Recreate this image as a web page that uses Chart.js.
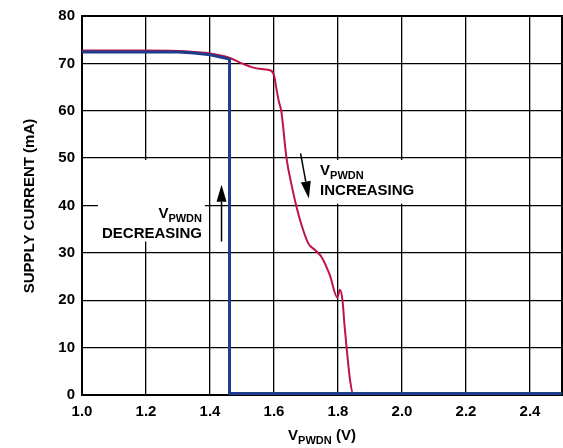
<!DOCTYPE html>
<html>
<head>
<meta charset="utf-8">
<script src="https://cdn.jsdelivr.net/npm/chart.js@4/dist/chart.umd.min.js"></script>
<style>
  html, body { margin: 0; padding: 0; background: #fff; }
  #wrap { width: 563px; height: 448px; }
</style>
</head>
<body>
<div id="wrap"><canvas id="myChart" width="563" height="448"></canvas></div>
<script>
const xTicks = [1.0, 1.2, 1.4, 1.6, 1.8, 2.0, 2.2, 2.4];
const yTicks = [0, 10, 20, 30, 40, 50, 60, 70, 80];

// V_PWDN increasing (red)
const incX = [1.0, 1.1, 1.2, 1.3, 1.35, 1.4, 1.46, 1.5, 1.53, 1.56, 1.59, 1.6, 1.608, 1.615, 1.623, 1.639, 1.655, 1.67, 1.686, 1.707, 1.728, 1.748, 1.774, 1.798, 1.806, 1.814, 1.82, 1.827, 1.838, 1.847, 1.9, 2.0, 2.5];
const incY = [72.7, 72.7, 72.7, 72.6, 72.4, 72.1, 71.2, 70.0, 69.2, 68.8, 68.5, 67.5, 64.5, 62.0, 59.8, 50.0, 44.3, 39.8, 35.9, 32.0, 30.6, 29.2, 25.4, 20.6, 22.2, 20.0, 15.0, 9.9, 3.0, 0.3, 0.2, 0.2, 0.2];

// V_PWDN decreasing (blue)
const decX = [1.0, 1.2, 1.3, 1.35, 1.4, 1.461, 1.461, 2.5];
const decY = [72.4, 72.4, 72.4, 72.2, 71.8, 70.9, 0.3, 0.3];

const red = "#be1446";
const blue = "#1e3c8c";
const font = "'Liberation Sans', Arial, sans-serif";

function toPoints(xs, ys) {
  return xs.map((x, i) => ({ x: x, y: ys[i] }));
}

// text with a subscript, e.g. V + PWDN
function drawSub(ctx, x, y, main, sub, rest, align) {
  ctx.font = "bold 15px " + font;
  const w1 = ctx.measureText(main).width;
  const w3 = rest ? ctx.measureText(rest).width : 0;
  ctx.font = "bold 11px " + font;
  const w2 = ctx.measureText(sub).width;
  const total = w1 + w2 + w3;
  let left = x;
  if (align === "right") left = x - total;
  if (align === "center") left = x - total / 2;
  ctx.textAlign = "left";
  ctx.textBaseline = "alphabetic";
  ctx.font = "bold 15px " + font;
  ctx.fillText(main, left, y);
  ctx.font = "bold 11px " + font;
  ctx.fillText(sub, left + w1, y + 4);
  if (rest) {
    ctx.font = "bold 15px " + font;
    ctx.fillText(rest, left + w1 + w2, y);
  }
}

function arrow(ctx, x1, y1, x2, y2) {
  const ang = Math.atan2(y2 - y1, x2 - x1);
  const len = 17, half = 5;
  ctx.beginPath();
  ctx.moveTo(x1, y1);
  ctx.lineTo(x2 - Math.cos(ang) * len, y2 - Math.sin(ang) * len);
  ctx.lineWidth = 1.5;
  ctx.stroke();
  ctx.beginPath();
  ctx.moveTo(x2, y2);
  ctx.lineTo(x2 - Math.cos(ang) * len - Math.sin(ang) * half, y2 - Math.sin(ang) * len + Math.cos(ang) * half);
  ctx.lineTo(x2 - Math.cos(ang) * len + Math.sin(ang) * half, y2 - Math.sin(ang) * len - Math.cos(ang) * half);
  ctx.closePath();
  ctx.fill();
}

const boxes = [
  { x1: 1.05, x2: 1.384, y1: 32.4, y2: 49.6 },
  { x1: 1.731, x2: 2.065, y1: 40.4, y2: 49.6 },
];

const labelBoxes = {
  id: "labelBoxes",
  beforeDatasetsDraw(chart) {
    const { ctx, scales: { x, y } } = chart;
    ctx.save();
    ctx.fillStyle = "#fff";
    boxes.forEach((b) => {
      const l = x.getPixelForValue(b.x1), r = x.getPixelForValue(b.x2);
      const t = y.getPixelForValue(b.y2), btm = y.getPixelForValue(b.y1);
      ctx.fillRect(l, t, r - l, btm - t);
    });
    // frame
    const a = chart.chartArea;
    ctx.strokeStyle = "#000";
    ctx.lineWidth = 2;
    ctx.strokeRect(a.left, a.top, a.right - a.left, a.bottom - a.top);
    ctx.restore();
  },
  afterDraw(chart) {
    const { ctx, scales: { x, y } } = chart;
    ctx.save();
    ctx.fillStyle = "#000";
    ctx.strokeStyle = "#000";

    drawSub(ctx, x.getPixelForValue(1.744), y.getPixelForValue(46.5), "V", "PWDN");
    ctx.font = "bold 15px " + font;
    ctx.textAlign = "left";
    ctx.fillText("INCREASING", x.getPixelForValue(1.744), y.getPixelForValue(42.3));

    drawSub(ctx, x.getPixelForValue(1.375), y.getPixelForValue(37.4), "V", "PWDN", "", "right");
    ctx.font = "bold 15px " + font;
    ctx.textAlign = "right";
    ctx.fillText("DECREASING", x.getPixelForValue(1.375), y.getPixelForValue(33.2));

    arrow(ctx, x.getPixelForValue(1.436), y.getPixelForValue(32.4), x.getPixelForValue(1.436), y.getPixelForValue(44.4));
    arrow(ctx, x.getPixelForValue(1.683), y.getPixelForValue(51.0), x.getPixelForValue(1.709), y.getPixelForValue(41.5));

    // axis titles
    drawSub(ctx, (chart.chartArea.left + chart.chartArea.right) / 2, 440, "V", "PWDN", " (V)", "center");
    ctx.save();
    ctx.translate(30, 206);
    ctx.rotate(-Math.PI / 2);
    ctx.font = "bold 15px " + font;
    ctx.textAlign = "center";
    ctx.textBaseline = "middle";
    ctx.fillText("SUPPLY CURRENT (mA)", 0, 0);
    ctx.restore();
    ctx.restore();
  },
};

const ctx = document.getElementById("myChart").getContext("2d");
new Chart(ctx, {
  type: "line",
  data: {
    datasets: [
      {
        label: "Decreasing",
        data: toPoints(decX, decY),
        borderColor: blue,
        borderWidth: 3,
        pointRadius: 0,
        tension: 0,
      },
      {
        label: "Increasing",
        data: toPoints(incX, incY),
        borderColor: red,
        borderWidth: 2,
        pointRadius: 0,
        cubicInterpolationMode: "monotone",
      },
    ],
  },
  options: {
    responsive: false,
    animation: false,
    layout: { padding: { top: 14, right: 1, left: 0, bottom: 0 } },
    plugins: { legend: { display: false }, tooltip: { enabled: false } },
    scales: {
      x: {
        type: "linear",
        min: 1.0,
        max: 2.5,
        afterFit(s) { s.height = 53; },
        afterBuildTicks(s) { s.ticks = xTicks.map((v) => ({ value: v })); },
        grid: { color: "#000", lineWidth: 1.3, drawTicks: false },
        border: { display: true, color: "#000", width: 2 },
        ticks: {
          color: "#000",
          padding: 8,
          maxRotation: 0,
          font: { family: font, size: 15, weight: "bold" },
          callback: (v) => Number(v).toFixed(1),
        },
      },
      y: {
        min: 0,
        max: 80,
        afterFit(s) { s.width = 82; },
        afterBuildTicks(s) { s.ticks = yTicks.map((v) => ({ value: v })); },
        grid: { color: "#000", lineWidth: 1.3, drawTicks: false },
        border: { display: true, color: "#000", width: 2 },
        ticks: {
          color: "#000",
          padding: 7,
          font: { family: font, size: 15, weight: "bold" },
        },
      },
    },
  },
  plugins: [labelBoxes],
});
</script>
</body>
</html>
